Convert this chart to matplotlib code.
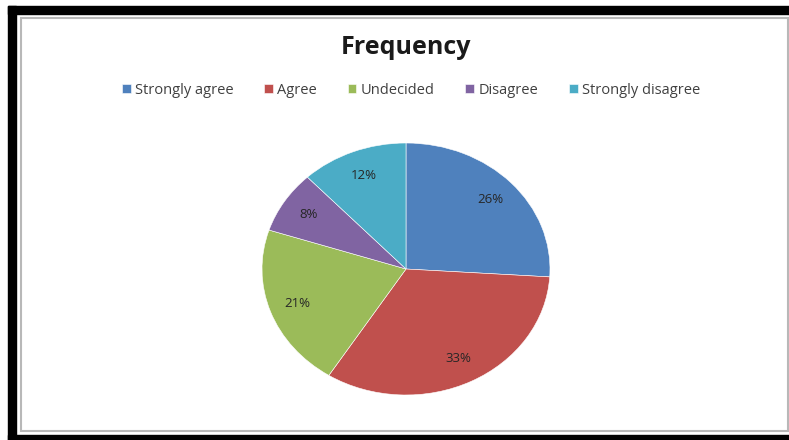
import matplotlib.pyplot as plt
from matplotlib.patches import Rectangle

# data
labels = ["Strongly agree", "Agree", "Undecided", "Disagree", "Strongly disagree"]
values = [26, 33, 21, 8, 12]
colors = ["#4F81BD", "#C0504D", "#9BBB59", "#8064A2", "#4BACC6"]

plt.rcParams["font.family"] = ["Open Sans", "DejaVu Sans"]

W, H = 789, 440
fig = plt.figure(figsize=(W / 100, H / 100), dpi=100)
fig.patch.set_facecolor("white")

# frame: thick black outer border, thin grey chart border
def px_rect(x0, y0, x1, y1, **kw):
    fig.patches.append(Rectangle((x0 / W, 1 - y1 / H), (x1 - x0) / W, (y1 - y0) / H,
                                 transform=fig.transFigure, figure=fig, **kw))

px_rect(8, 6, W + 5, 14, color="black")
px_rect(8, 6, 16, H, color="black")
px_rect(8, 435, W + 5, H, color="black")
px_rect(21, 18, 788, 431, fill=False, edgecolor="#b8b8b8", linewidth=1.5)

# pie (elliptical, like the original)
ax = fig.add_axes([262 / W, 1 - 395 / H, 288 / W, 252 / H])
wedges, texts, autotexts = ax.pie(
    values, colors=colors, startangle=90, counterclock=False,
    autopct="%1.0f%%", pctdistance=0.8, radius=1,
    wedgeprops=dict(linewidth=0.4, edgecolor="white"),
    textprops=dict(fontsize=9.5, color="#262626"))
ax.set_aspect("auto")
ax.set_xlim(-1, 1)
ax.set_ylim(-1, 1)

fig.text(406 / W, 1 - 47 / H, "Frequency", ha="center", va="center",
         fontsize=18, fontweight="bold", color="#1a1a1a")

fig.legend(wedges, labels, loc="center", bbox_to_anchor=(411 / W, 1 - 90 / H),
           ncol=5, frameon=False, fontsize=10.5, handlelength=0.6, handleheight=0.6,
           handletextpad=0.3, columnspacing=2.1, labelcolor="#404040")

fig.savefig("out.png", dpi=100)
